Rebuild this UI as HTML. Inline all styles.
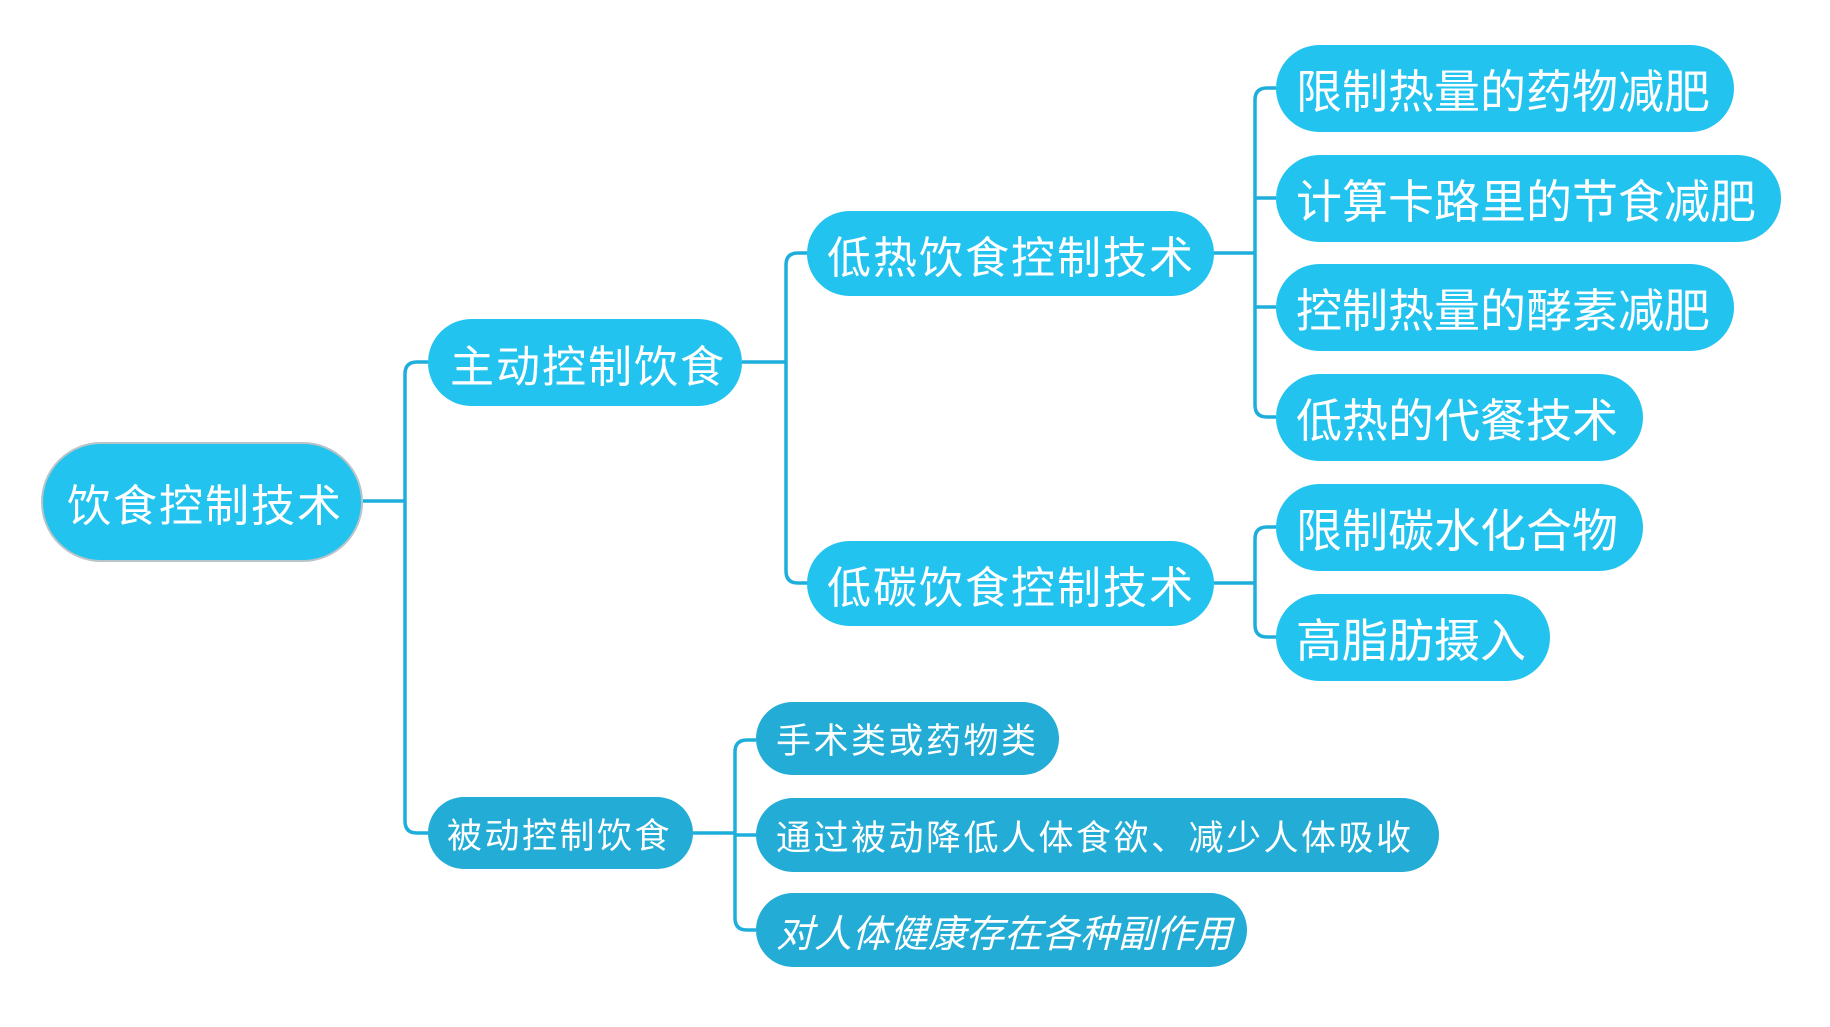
<!DOCTYPE html>
<html><head><meta charset="utf-8"><style>
body{margin:0;width:1830px;height:1027px;background:#fff;position:relative;overflow:hidden;font-family:"Liberation Sans","Noto Sans CJK SC",sans-serif}
.n{position:absolute;box-sizing:border-box;background:#22c3ef;color:#fff;display:flex;align-items:center;white-space:nowrap;border-radius:46px}
.a{font-size:44px;letter-spacing:2px;padding-left:22px}
.l{font-size:46px;letter-spacing:0px;padding-left:20px}
.d{background:#22acd6;font-size:35px;letter-spacing:2.5px;padding-left:20px;border-radius:38px}
svg{position:absolute;left:0;top:0}
</style></head><body>
<svg width="1830" height="1027" fill="none" stroke="#1eaedb" stroke-width="3.5">
<path d="M363 501 H405 M428 362 H417 Q405 362 405 374 V821 Q405 833 417 833 H428"/>
<path d="M742 362 H786 M807 253 H798 Q786 253 786 265 V571 Q786 583 798 583 H807"/>
<path d="M1214 253 H1255 M1276 88 H1267 Q1255 88 1255 100 V405 Q1255 417 1267 417 H1276 M1255 198 H1276 M1255 307 H1276"/>
<path d="M1214 583 H1255 M1276 527 H1267 Q1255 527 1255 539 V625 Q1255 637 1267 637 H1276"/>
<path d="M693 833 H735 M756 740 H747 Q735 740 735 752 V918 Q735 930 747 930 H756 M735 835 H756"/>
</svg>
<div class="n a" style="left:41px;top:442px;width:322px;height:120px;border-radius:60px;border:2px solid #b8c4c8;padding-left:24px">饮食控制技术</div>
<div class="n a" style="left:428px;top:319px;width:314px;height:87px">主动控制饮食</div>
<div class="n d" style="left:428px;top:797px;width:265px;height:72px;padding-left:19px">被动控制饮食</div>
<div class="n a" style="left:807px;top:211px;width:407px;height:85px;padding-left:20px">低热饮食控制技术</div>
<div class="n a" style="left:807px;top:541px;width:407px;height:85px;padding-left:20px">低碳饮食控制技术</div>
<div class="n l" style="left:1276px;top:45px;width:458px;height:87px">限制热量的药物减肥</div>
<div class="n l" style="left:1276px;top:155px;width:505px;height:87px">计算卡路里的节食减肥</div>
<div class="n l" style="left:1276px;top:264px;width:458px;height:87px">控制热量的酵素减肥</div>
<div class="n l" style="left:1276px;top:374px;width:367px;height:87px">低热的代餐技术</div>
<div class="n l" style="left:1276px;top:484px;width:367px;height:87px">限制碳水化合物</div>
<div class="n l" style="left:1276px;top:594px;width:274px;height:87px">高脂肪摄入</div>
<div class="n d" style="left:756px;top:702px;width:303px;height:73px">手术类或药物类</div>
<div class="n d" style="left:756px;top:798px;width:683px;height:74px">通过被动降低人体食欲、减少人体吸收</div>
<div class="n d" style="left:756px;top:893px;width:491px;height:74px;font-style:italic;font-size:38px;letter-spacing:0">对人体健康存在各种副作用</div>
</body></html>
